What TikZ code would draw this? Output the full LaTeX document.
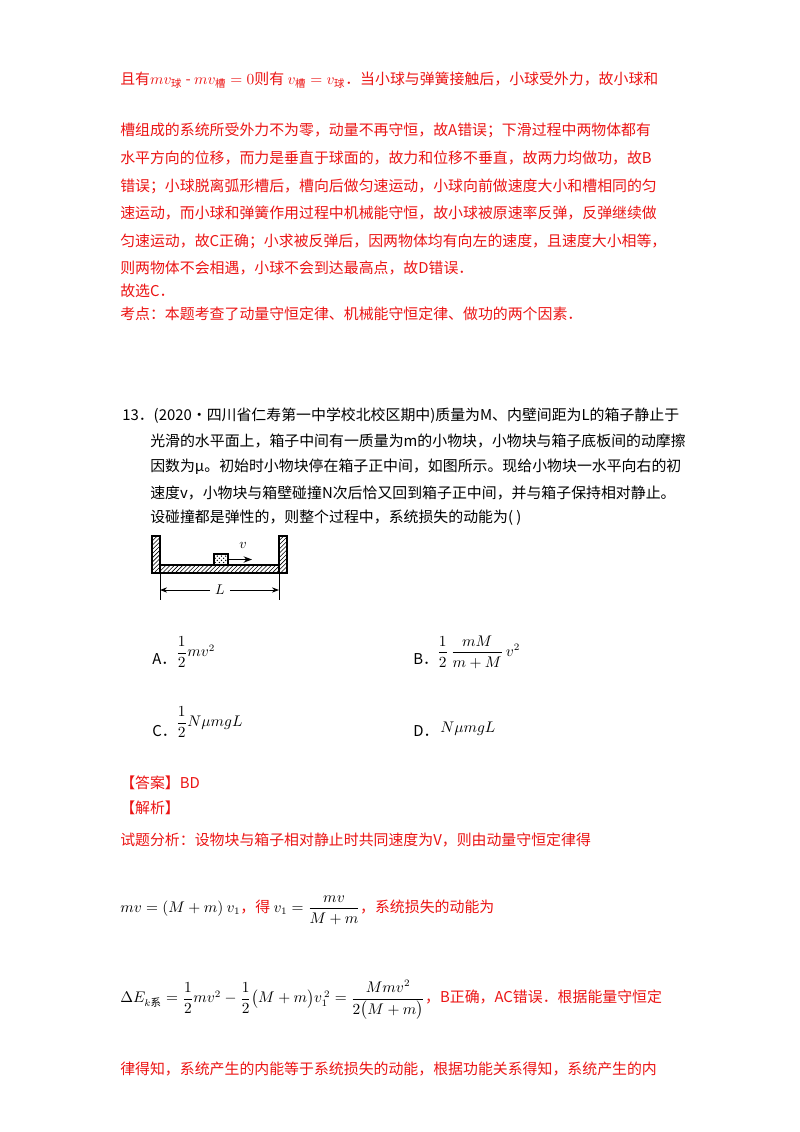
\documentclass[tikz,border=0pt]{standalone}
\usepackage{amsmath}
\usepackage{fontspec}
\setmainfont{Noto Sans CJK SC}
\usetikzlibrary{patterns,arrows.meta}
\definecolor{rd}{RGB}{235,20,20}
\begin{document}
\begin{tikzpicture}[x=0.025cm,y=-0.025cm,
 t/.style={anchor=west,inner sep=0pt,font=\fontsize{10.6}{12}\selectfont},
 r/.style={t,text=rd},
 hatch/.style={pattern=north east lines,draw=black,line width=0.8pt}]
\useasboundingbox (0,0) rectangle (800,1132);
\node[r] (l1) at (120,80) {且有$mv_{\text{球}}$ - $mv_{\text{槽}}=0$则有 $v_{\text{槽}}=v_{\text{球}}$．当小球与弹簧接触后，小球受外力，故小球和};
\node[r] (l2) at (120,130) {槽组成的系统所受外力不为零，动量不再守恒，故A错误；下滑过程中两物体都有};
\node[r] (l3) at (120,158) {水平方向的位移，而力是垂直于球面的，故力和位移不垂直，故两力均做功，故B};
\node[r] (l4) at (120,186) {错误；小球脱离弧形槽后，槽向后做匀速运动，小球向前做速度大小和槽相同的匀};
\node[r] (l5) at (120,213) {速运动，而小球和弹簧作用过程中机械能守恒，故小球被原速率反弹，反弹继续做};
\node[r] (l6) at (120,241) {匀速运动，故C正确；小求被反弹后，因两物体均有向左的速度，且速度大小相等，};
\node[r] (l7) at (120,268) {则两物体不会相遇，小球不会到达最高点，故D错误．};
\node[r] (l8) at (120,291) {故选C．};
\node[r] (l9) at (120,314) {考点：本题考查了动量守恒定律、机械能守恒定律、做功的两个因素．};
\node[t] (q1) at (122,416) {13．(2020·四川省仁寿第一中学校北校区期中)质量为M、内壁间距为L的箱子静止于};
\node[t] (q2) at (150,441) {光滑的水平面上，箱子中间有一质量为m的小物块，小物块与箱子底板间的动摩擦};
\node[t] (q3) at (150,467) {因数为μ。初始时小物块停在箱子正中间，如图所示。现给小物块一水平向右的初};
\node[t] (q4) at (150,493) {速度v，小物块与箱壁碰撞N次后恰又回到箱子正中间，并与箱子保持相对静止。};
\node[t] (q5) at (150,518) {设碰撞都是弹性的，则整个过程中，系统损失的动能为( )};
% figure
\draw[hatch] (152,536) rectangle (160,573);
\draw[hatch] (279,536) rectangle (287,573);
\draw[hatch] (160,565) rectangle (279,573);
\draw[pattern=crosshatch dots,draw=black,line width=0.8pt] (214,554) rectangle (228,565);
\coordinate (a0) at (228,559.5); \coordinate (a1) at (252,559.5);
\draw[-{Stealth[length=6pt]},line width=0.8pt] (a0) -- (a1);
\node (v) at (243,545) {$v$};
\draw[line width=0.7pt] (160,573) -- (160,600) (279,573) -- (279,600);
\node (L) at (220,590) {$L$};
\coordinate (d0) at (160,590); \coordinate (d1) at (279,590);
\draw[-{Stealth[length=5pt]},line width=0.7pt] (L.west) -- (d0);
\draw[-{Stealth[length=5pt]},line width=0.7pt] (L.east) -- (d1);
% options
\node[t] (A) at (152,659) {A．};
\node[t] (Af) at (176,652) {$\dfrac12 mv^2$};
\node[t] (B) at (413,659) {B．};
\node[t] (Bf) at (437,652) {$\dfrac12\,\dfrac{mM}{m+M}\,v^2$};
\node[t] (C) at (152,731) {C．};
\node[t] (Cf) at (176,722) {$\dfrac12 N\mu mgL$};
\node[t] (D) at (413,731) {D．};
\node[t] (Df) at (440,729) {$N\mu mgL$};
\node[r] (ans) at (120,783) {【答案】BD};
\node[r] (jx) at (120,808) {【解析】};
\node[r] (s1) at (120,840) {试题分析：设物块与箱子相对静止时共同速度为V，则由动量守恒定律得};
\node[r] (s2) at (120,910) {\textcolor{black}{$mv=(M+m)\ v_1$}，得 \textcolor{black}{$v_1=\dfrac{mv}{M+m}$}，系统损失的动能为};
\node[r] (s3) at (120,1000) {\textcolor{black}{$\Delta E_{k\text{系}}=\dfrac12mv^2-\dfrac12\big(M+m\big)v_1^{\,2}=\dfrac{Mmv^2}{2\big(M+m\big)}$}，B正确，AC错误．根据能量守恒定};
\node[r] (s4) at (120,1069) {律得知，系统产生的内能等于系统损失的动能，根据功能关系得知，系统产生的内};
\end{tikzpicture}
\end{document}
